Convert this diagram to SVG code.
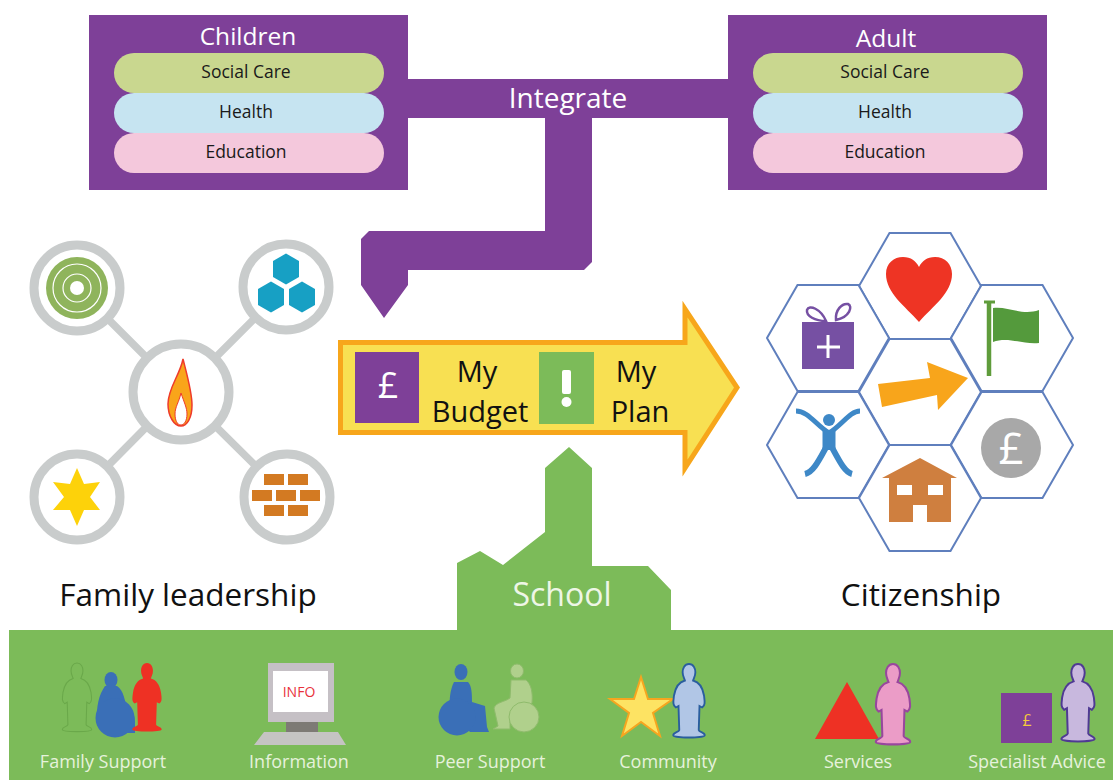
<svg xmlns="http://www.w3.org/2000/svg" width="1113" height="780" viewBox="0 0 1113 780">
<style>
text{font-family:"Open Sans","Noto Sans","Liberation Sans",sans-serif;text-anchor:middle}
.pur{fill:#7e4098}
.grn{fill:#7cbb59}
.w{fill:#fff}
.h{font-size:24.500px;fill:#fff}
.p{font-size:17.500px;fill:#1a1a1a}
.big{font-size:31.500px;fill:#111}
.arr{font-size:29px;fill:#111}
.lab{font-size:18px;fill:#e6f2dc}
.ring{fill:#fff;stroke:#c9cccc;stroke-width:9}
.link{stroke:#c9cccc;stroke-width:7.500;fill:none}
.hex{fill:#fff;stroke:#5f7fbd;stroke-width:2}
</style>
<defs>
<path id="person" d="M0,0C6,0 8.500,6 8.500,11C8.500,16 6.500,19 5.500,22C13,24 18,30 20,42C21,50 22,55 17.500,58L14,56L13,88C13.500,91 21,91 21,95C21,99 -21,99 -21,95C-21,91 -13.500,91 -13,88L-14,56L-17.500,58C-22,55 -21,50 -20,42C-18,30 -13,24 -5.500,22C-6.500,19 -8.500,16 -8.500,11C-8.500,6 -6,0 0,0Z"/>
<polygon id="hexa" points="-61,0 -30.500,-53 30.500,-53 61,0 30.500,53 -30.500,53"/>
<polygon id="smallhex" points="0,-15.500 13,-8 13,8 0,15.500 -13,8 -13,-8"/>
<rect id="brick" width="20" height="11" fill="#d37a22"/>
</defs>
<rect width="1113" height="780" fill="#fff"/>

<g id="connectors">
<path class="pur" d="M408,79H728V118H592V262L584,270H408V285L384,318L361,285V239L369,231H545V118H408Z"/>
<path class="link" d="M77,288L181,392M286,287L181,392M77,497L181,392M287,497L181,392"/>
</g>

<g id="children">
<rect class="pur" x="89" y="15" width="319" height="175"/>
<text class="h" x="248" y="45">Children</text>
<rect x="114" y="53" width="270" height="40" rx="20" fill="#c9d78f"/>
<rect x="114" y="93" width="270" height="40" rx="20" fill="#c6e4f1"/>
<rect x="114" y="133" width="270" height="40" rx="20" fill="#f4c8dc"/>
<text class="p" x="246" y="78">Social Care</text>
<text class="p" x="246" y="118">Health</text>
<text class="p" x="246" y="158">Education</text>
</g>
<g id="adult">
<rect class="pur" x="728" y="15" width="319" height="175"/>
<text class="h" x="886" y="47">Adult</text>
<rect x="753" y="53" width="270" height="40" rx="20" fill="#c9d78f"/>
<rect x="753" y="93" width="270" height="40" rx="20" fill="#c6e4f1"/>
<rect x="753" y="133" width="270" height="40" rx="20" fill="#f4c8dc"/>
<text class="p" x="885" y="78">Social Care</text>
<text class="p" x="885" y="118">Health</text>
<text class="p" x="885" y="158">Education</text>
</g>
<g id="integrate"><text x="568" y="108" style="font-size:28px;fill:#fff">Integrate</text></g>

<g id="family-leadership">
<circle class="ring" cx="181" cy="392" r="48"/>
<path d="M183,359C187,375 192,392 192,405C192,418 187,426 181,426C174,426 168,416 168,404C168,388 180,375 183,359Z" fill="#f9a51a" stroke="#ee3b2b" stroke-width="1.500"/>
<path d="M181,393C184,402 187,408 187,414C187,421 184,425 181,425C177,425 175,420 175,414C175,407 179,402 181,393Z" fill="#fff" stroke="#ee3b2b" stroke-width="1"/>
<circle class="ring" cx="77" cy="288" r="43"/>
<circle cx="77" cy="288" r="31" fill="#8fb45c"/>
<circle cx="77" cy="288" r="24" fill="none" stroke="#fff" stroke-width="1.200"/>
<circle cx="77" cy="288" r="14" fill="none" stroke="#fff" stroke-width="1.200"/>
<circle cx="77" cy="288" r="7" fill="#fff"/>
<circle class="ring" cx="286" cy="287" r="43"/>
<use href="#smallhex" x="286" y="269" fill="#17a0c4"/>
<use href="#smallhex" x="271" y="297" fill="#17a0c4"/>
<use href="#smallhex" x="302" y="297" fill="#17a0c4"/>
<circle class="ring" cx="77" cy="497" r="43"/>
<polygon points="77,468 84,484 100,482 90,497 100,510 84,510 77,526 70,510 53,510 64,497 53,482 70,484" fill="#fdd20a"/>
<circle class="ring" cx="287" cy="497" r="43"/>
<use href="#brick" x="264" y="474"/><use href="#brick" x="288" y="474"/>
<use href="#brick" x="252" y="490"/><use href="#brick" x="276" y="490"/><use href="#brick" x="300" y="490"/>
<use href="#brick" x="264" y="505"/><use href="#brick" x="288" y="505"/>
<text class="big" x="188" y="606">Family leadership</text>
</g>

<g id="main-arrow">
<path d="M340.500,342.500H685V309L737,387.500L685,468V432.500H340.500Z" fill="#f8e052" stroke="#f7a61b" stroke-width="5"/>
<rect class="pur" x="355" y="352" width="64" height="71"/>
<text x="388" y="398" style="font-size:36px;fill:#fff">£</text>
<rect class="grn" x="539" y="352" width="55" height="72"/>
<rect x="562" y="370" width="9" height="24" rx="2" fill="#fff"/>
<circle cx="566.500" cy="402" r="5" fill="#fff"/>
<text class="arr" x="477" y="382">My</text>
<text class="arr" x="480" y="422">Budget</text>
<text class="arr" x="636" y="382">My</text>
<text class="arr" x="640" y="422">Plan</text>
</g>

<g id="citizenship">
<use href="#hexa" class="hex" x="920" y="286"/>
<use href="#hexa" class="hex" x="828" y="338"/>
<use href="#hexa" class="hex" x="1012" y="338"/>
<use href="#hexa" class="hex" x="920" y="392"/>
<use href="#hexa" class="hex" x="828" y="445"/>
<use href="#hexa" class="hex" x="1012" y="445"/>
<use href="#hexa" class="hex" x="920" y="498"/>
<path d="M919,322C905,306 886,293 886,274C886,263 894,257 903,257C911,257 916,261 919,267C922,261 927,257 935,257C945,257 952,264 952,274C952,293 933,306 919,322Z" fill="#ee3424"/>
<rect x="802" y="322" width="52" height="47" fill="#7650a3"/>
<path d="M826,321C815,321 806,316 807,310C809,304 821,309 826,321ZM836,320C835,310 842,303 848,304C853,306 850,317 836,320Z" fill="none" stroke="#7650a3" stroke-width="2.500"/>
<path d="M828,335V358M817,347H840" stroke="#fff" stroke-width="3" fill="none"/>
<path d="M989,302V376" stroke="#5f9c3b" stroke-width="4.500" fill="none"/>
<path d="M984,302H995" stroke="#5f9c3b" stroke-width="3" fill="none"/>
<path d="M993,308C1008,306 1022,316 1039,310V343C1024,345 1008,336 993,342Z" fill="#549a3c"/>
<polygon points="878,384 930,378 927,362 968,378 938,410 937,395 882,407" fill="#f8a51b"/>
<circle cx="829" cy="420" r="6" fill="#3e88c7"/>
<path d="M796,411C808,411 816,425 829,433C842,425 850,411 860,411" fill="none" stroke="#3e88c7" stroke-width="5"/>
<path d="M805,474C814,472 820,458 829,442C838,458 844,472 852,474" fill="none" stroke="#3e88c7" stroke-width="6"/>
<path d="M829,430V450" stroke="#3e88c7" stroke-width="13" fill="none"/>
<circle cx="1011" cy="448" r="30" fill="#a8a8a8"/>
<text x="1011" y="464" style="font-size:44px;fill:#fff">£</text>
<path d="M920,458L957,478H951V522H927V505H913V522H889V478H882Z" fill="#cf7f3f"/>
<rect class="w" x="897" y="485" width="15" height="10"/>
<rect class="w" x="928" y="485" width="15" height="10"/>
<text class="big" x="921" y="606">Citizenship</text>
</g>

<g id="school">
<path class="grn" d="M9,630H457V563L480,551L503,565L545,532V468L569,447L592,468V566H648L671,590V630H1113V780H9Z"/>
<text x="562" y="606" style="font-size:32px;fill:#eef6e6">School</text>
</g>

<g id="family-support">
<use href="#person" transform="translate(77,663) scale(.7)" fill="none" stroke="#6aa84a" stroke-width="1.500"/>
<ellipse cx="111" cy="680" rx="6.500" ry="8" fill="#3a6fb7"/>
<path d="M105,686H117C124,690 125,703 127,707C133,709 135,716 135,722V733H112L97,725C96,705 99,695 105,686Z" fill="#3a6fb7"/>
<circle cx="115" cy="718" r="19.500" fill="#3a6fb7"/>
<use href="#person" transform="translate(147,663) scale(.7)" fill="#ee3124"/>
<text class="lab" x="103" y="768">Family Support</text>
</g>
<g id="information">
<rect x="268" y="663" width="66" height="59" fill="#c5c0c5"/>
<rect class="w" x="273" y="671" width="55" height="41"/>
<text x="299" y="697" style="font-size:14px;fill:#e8323c">INFO</text>
<rect x="286" y="722" width="32" height="10" fill="#7d7a75"/>
<polygon points="254,745 264,732 338,732 346,745" fill="#c5c4c3"/>
<text class="lab" x="299" y="768">Information</text>
</g>
<g id="peer-support">
<ellipse cx="461" cy="672" rx="6.500" ry="8" fill="#3a6fb7"/>
<path d="M454,682H468C472,686 472,695 472,702L485,706L487,727L489,732H470L450,712C449,700 450,690 454,682Z" fill="#3a6fb7"/>
<circle cx="457" cy="717" r="18.500" fill="#3a6fb7"/>
<ellipse cx="517" cy="671" rx="6.500" ry="7" fill="#b0d08c" stroke="#8fbb6c"/>
<path d="M511,680H526C531,684 533,692 532,703L510,718L510,729H493L498,726L494,708C496,702 505,702 510,698Z" fill="#b0d08c" stroke="#8fbb6c"/>
<circle cx="524" cy="717" r="15" fill="#b0d08c" stroke="#8fbb6c"/>
<text class="lab" x="490" y="768">Peer Support</text>
</g>
<g id="community">
<polygon points="641,677 648,699 673,699 653,713 660,736 641,722 622,736 629,713 610,699 634,699" fill="#fde363" stroke="#f6a51f" stroke-width="2"/>
<use href="#person" transform="translate(689,664) scale(.75)" fill="#b1c6e6" stroke="#2a5e9e" stroke-width="2.500"/>
<text class="lab" x="668" y="768">Community</text>
</g>
<g id="services">
<polygon points="847,682 879,739 815,739" fill="#ee3124"/>
<use href="#person" transform="translate(893,664) scale(.82)" fill="#eb9cc7" stroke="#98479d" stroke-width="2.500"/>
<text class="lab" x="858" y="768">Services</text>
</g>
<g id="specialist-advice">
<rect x="1001" y="693" width="51" height="50" class="pur"/>
<text x="1027" y="726" style="font-size:16px;fill:#f4c93c">£</text>
<use href="#person" transform="translate(1078,664) scale(.79)" fill="#c8b8de" stroke="#4f3a93" stroke-width="2.500"/>
<text class="lab" x="1037" y="768">Specialist Advice</text>
</g>
</svg>
